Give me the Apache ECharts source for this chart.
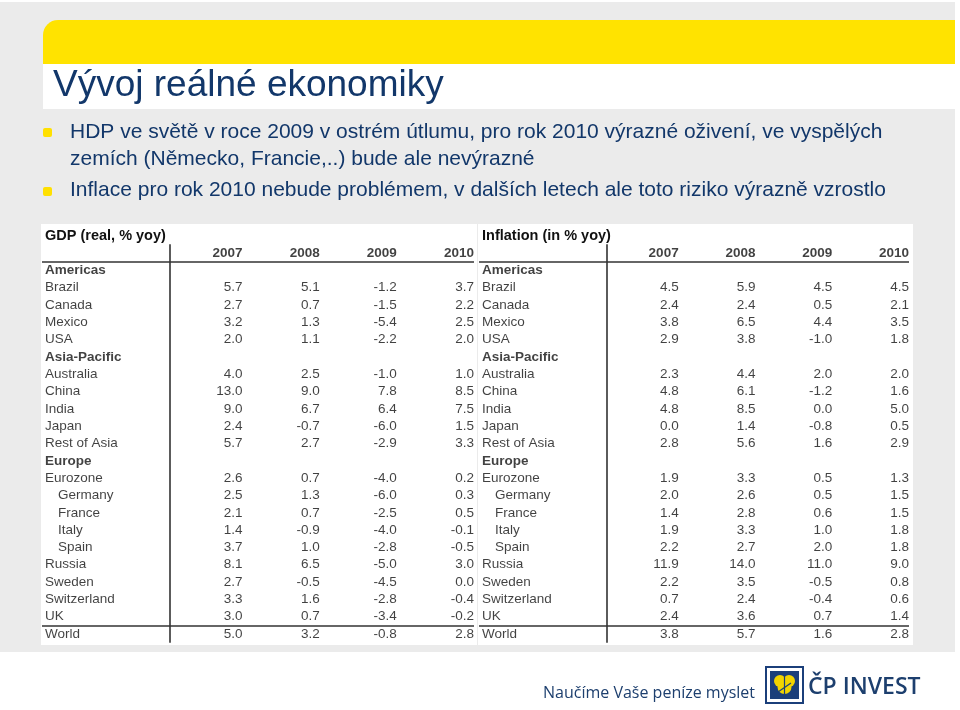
<!DOCTYPE html>
<html>
<head>
<meta charset="utf-8">
<title>Vývoj reálné ekonomiky</title>
<script src="https://cdn.jsdelivr.net/npm/echarts@6/dist/echarts.min.js"></script>
<style>
  html, body { margin: 0; padding: 0; background: #fff; }
  #main { width: 960px; height: 710px; }
</style>
</head>
<body>
<div id="main"></div>
<script>
// row labels of both tables
var rowNames = ['Americas', 'Brazil', 'Canada', 'Mexico', 'USA', 'Asia-Pacific', 'Australia', 'China', 'India', 'Japan',
  'Rest of Asia', 'Europe', 'Eurozone', 'Germany', 'France', 'Italy', 'Spain', 'Russia', 'Sweden', 'Switzerland', 'UK', 'World'];
var groupRows = ['Americas', 'Asia-Pacific', 'Europe'];
var subRows = ['Germany', 'France', 'Italy', 'Spain'];
var years = ['2007', '2008', '2009', '2010'];

// GDP (real, % yoy)
var gdp2007 = [null, 5.7, 2.7, 3.2, 2.0, null, 4.0, 13.0, 9.0, 2.4, 5.7, null, 2.6, 2.5, 2.1, 1.4, 3.7, 8.1, 2.7, 3.3, 3.0, 5.0];
var gdp2008 = [null, 5.1, 0.7, 1.3, 1.1, null, 2.5, 9.0, 6.7, -0.7, 2.7, null, 0.7, 1.3, 0.7, -0.9, 1.0, 6.5, -0.5, 1.6, 0.7, 3.2];
var gdp2009 = [null, -1.2, -1.5, -5.4, -2.2, null, -1.0, 7.8, 6.4, -6.0, -2.9, null, -4.0, -6.0, -2.5, -4.0, -2.8, -5.0, -4.5, -2.8, -3.4, -0.8];
var gdp2010 = [null, 3.7, 2.2, 2.5, 2.0, null, 1.0, 8.5, 7.5, 1.5, 3.3, null, 0.2, 0.3, 0.5, -0.1, -0.5, 3.0, 0.0, -0.4, -0.2, 2.8];

// Inflation (in % yoy)
var inf2007 = [null, 4.5, 2.4, 3.8, 2.9, null, 2.3, 4.8, 4.8, 0.0, 2.8, null, 1.9, 2.0, 1.4, 1.9, 2.2, 11.9, 2.2, 0.7, 2.4, 3.8];
var inf2008 = [null, 5.9, 2.4, 6.5, 3.8, null, 4.4, 6.1, 8.5, 1.4, 5.6, null, 3.3, 2.6, 2.8, 3.3, 2.7, 14.0, 3.5, 2.4, 3.6, 5.7];
var inf2009 = [null, 4.5, 0.5, 4.4, -1.0, null, 2.0, -1.2, 0.0, -0.8, 1.6, null, 0.5, 0.5, 0.6, 1.0, 2.0, 11.0, -0.5, -0.4, 0.7, 1.6];
var inf2010 = [null, 4.5, 2.1, 3.5, 1.8, null, 2.0, 1.6, 5.0, 0.5, 2.9, null, 1.3, 1.5, 1.5, 1.8, 1.8, 9.0, 0.8, 0.6, 1.4, 2.8];

var gdpCols = [gdp2007, gdp2008, gdp2009, gdp2010];
var infCols = [inf2007, inf2008, inf2009, inf2010];

var FONT = '"Liberation Sans", Arial, sans-serif';
var NAVY = '#12376a';
var rowCount = rowNames.length + 1;   // + header row

function tableSeries(idx, cols) {
  var base = {
    type: 'scatter', xAxisIndex: idx, yAxisIndex: idx,
    symbolSize: 0, silent: true
  };
  var out = [];
  // row names
  out.push(Object.assign({}, base, {
    data: rowNames.map(function (n, i) { return [-1.6, i + 1, n]; }),
    label: {
      show: true, position: 'right', distance: 3, color: '#111',
      fontFamily: FONT, fontSize: 13.5,
      formatter: function (p) {
        var n = p.value[2];
        if (groupRows.indexOf(n) >= 0) return '{b|' + n + '}';
        if (subRows.indexOf(n) >= 0) return '{ind|' + n + '}';
        return n;
      },
      rich: {
        b: { fontFamily: FONT, fontSize: 13.5, fontWeight: 'bold', color: '#111' },
        ind: { fontFamily: FONT, fontSize: 13.5, color: '#111', padding: [0, 0, 0, 13] }
      }
    },
    markLine: {
      silent: true, symbol: 'none', label: { show: false },
      lineStyle: { color: '#333', width: 1.6, type: 'solid' },
      data: [{ xAxis: 0.06 }, { yAxis: 0.5 }, { yAxis: rowNames.length - 0.5 }]
    }
  }));
  // year headers
  out.push(Object.assign({}, base, {
    data: years.map(function (y, j) { return [j + 1, 0, y]; }),
    label: {
      show: true, position: 'left', distance: 0, color: '#111',
      fontFamily: FONT, fontSize: 13.5, fontWeight: 'bold',
      formatter: function (p) { return p.value[2]; }
    }
  }));
  // values
  cols.forEach(function (col, j) {
    var d = [];
    col.forEach(function (v, i) { if (v !== null) d.push([j + 1, i + 1, v]); });
    out.push(Object.assign({}, base, {
      data: d,
      label: {
        show: true, position: 'left', distance: 0, color: '#111',
        fontFamily: FONT, fontSize: 13.5,
        formatter: function (p) { return p.value[2].toFixed(1); }
      }
    }));
  });
  return out;
}

var chart = echarts.init(document.getElementById('main'));

var option = {
  animation: false,
  backgroundColor: '#fff',
  title: [
    { text: 'GDP (real, % yoy)', left: 45, top: 228, padding: 0,
      textStyle: { fontFamily: FONT, fontSize: 14.5, fontWeight: 'bold', color: '#111' } },
    { text: 'Inflation (in % yoy)', left: 482, top: 228, padding: 0,
      textStyle: { fontFamily: FONT, fontSize: 14.5, fontWeight: 'bold', color: '#111' } }
  ],
  grid: [
    { left: 42, top: 244.3, width: 432, height: 398.4 },
    { left: 479, top: 244.3, width: 430, height: 398.4 }
  ],
  xAxis: [
    { type: 'value', gridIndex: 0, min: -1.6, max: 4, show: false },
    { type: 'value', gridIndex: 1, min: -1.6, max: 4, show: false }
  ],
  yAxis: [
    { type: 'value', gridIndex: 0, inverse: true, min: -0.5, max: rowCount - 0.5, show: false },
    { type: 'value', gridIndex: 1, inverse: true, min: -0.5, max: rowCount - 0.5, show: false }
  ],
  graphic: [
    { type: 'rect', shape: { x: 0, y: 2, width: 955, height: 650 }, style: { fill: '#ebebeb' } },
    { type: 'rect', shape: { x: 43, y: 20, width: 912, height: 44, r: [15, 0, 0, 0] }, style: { fill: '#ffe300' } },
    { type: 'rect', shape: { x: 43, y: 64, width: 912, height: 45 }, style: { fill: '#ffffff' } },
    { type: 'text', style: { text: 'Vývoj reálné ekonomiky', x: 53, y: 86, fill: NAVY,
      font: '37px ' + FONT, verticalAlign: 'middle', textVerticalAlign: 'middle' } },
    { type: 'rect', shape: { x: 43, y: 128, width: 9, height: 9, r: 2 }, style: { fill: '#ffe000' } },
    { type: 'rect', shape: { x: 43, y: 187, width: 9, height: 9, r: 2 }, style: { fill: '#ffe000' } },
    { type: 'text', style: { text: 'HDP ve světě v roce 2009 v ostrém útlumu, pro rok 2010 výrazné oživení, ve vyspělých', x: 70, y: 132.5,
      fill: NAVY, font: '21px ' + FONT, verticalAlign: 'middle', textVerticalAlign: 'middle' } },
    { type: 'text', style: { text: 'zemích (Německo, Francie,..) bude ale nevýrazné', x: 70, y: 159,
      fill: NAVY, font: '21px ' + FONT, verticalAlign: 'middle', textVerticalAlign: 'middle' } },
    { type: 'text', style: { text: 'Inflace pro rok 2010 nebude problémem, v dalších letech ale toto riziko výrazně vzrostlo', x: 70, y: 190,
      fill: NAVY, font: '21px ' + FONT, verticalAlign: 'middle', textVerticalAlign: 'middle' } },
    // table panels
    { type: 'rect', shape: { x: 41, y: 224, width: 436, height: 421 }, style: { fill: '#ffffff' } },
    { type: 'rect', shape: { x: 478, y: 224, width: 435, height: 421 }, style: { fill: '#ffffff' } },
    // footer
    { type: 'text', style: { text: 'Naučíme Vaše peníze myslet', x: 543, y: 693, fill: '#1d3f6e',
      font: '16px "Open Sans", ' + FONT, verticalAlign: 'middle', textVerticalAlign: 'middle' } },
    { type: 'rect', shape: { x: 766, y: 667, width: 37, height: 36 }, style: { fill: '#fff', stroke: '#1b3f7a', lineWidth: 2 } },
    { type: 'rect', shape: { x: 770, y: 671, width: 29, height: 28 }, style: { fill: '#1b3f7a' } },
    { type: 'circle', shape: { cx: 780, cy: 681, r: 6 }, style: { fill: '#f2d400' } },
    { type: 'circle', shape: { cx: 789, cy: 681, r: 6 }, style: { fill: '#f2d400' } },
    { type: 'circle', shape: { cx: 784.5, cy: 687, r: 7 }, style: { fill: '#f2d400' } },
    { type: 'line', shape: { x1: 784.5, y1: 676, x2: 784.5, y2: 697 }, style: { stroke: '#1b3f7a', lineWidth: 1.2 } },
    { type: 'line', shape: { x1: 778, y1: 692, x2: 791, y2: 683 }, style: { stroke: '#1b3f7a', lineWidth: 1.2 } },
    { type: 'text', style: { text: 'ČP INVEST', x: 808, y: 687, fill: '#1d3f6e',
      font: '600 23px "Open Sans", ' + FONT, verticalAlign: 'middle', textVerticalAlign: 'middle' } }
  ],
  series: tableSeries(0, gdpCols).concat(tableSeries(1, infCols))
};

chart.setOption(option);
</script>
</body>
</html>
